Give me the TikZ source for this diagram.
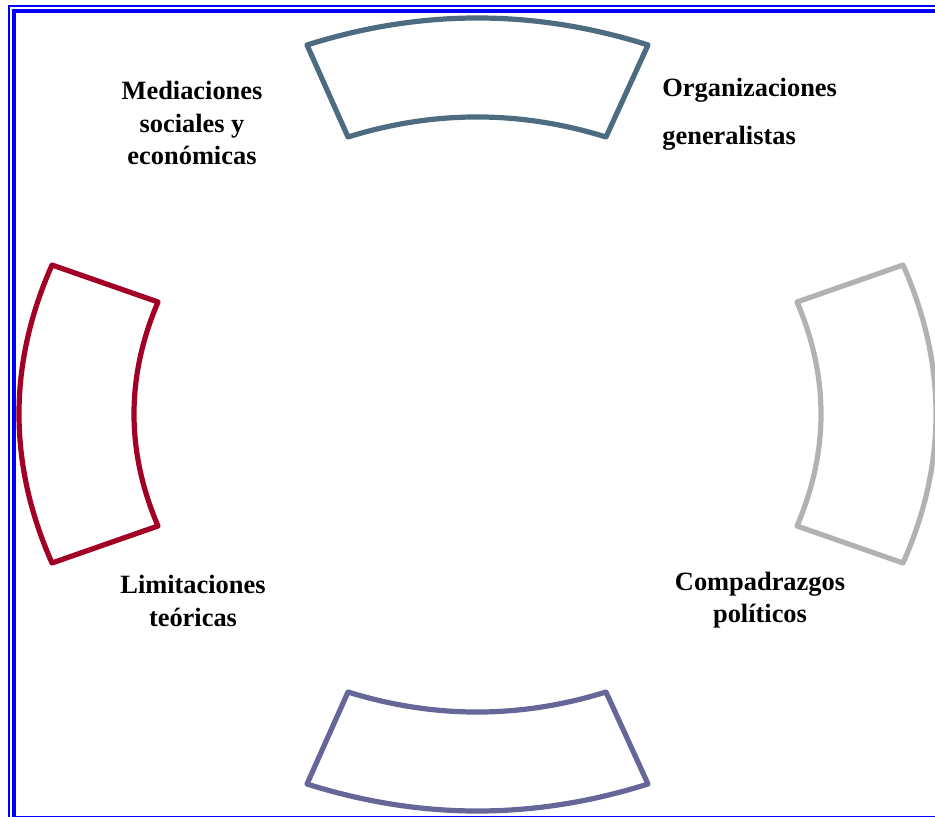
\documentclass[tikz,border=0pt]{standalone}
\usepackage{fontspec}
\setmainfont{Liberation Serif}
\usepackage{tikz}
\usetikzlibrary{positioning}

\definecolor{frameblue}{RGB}{0,0,255}
\definecolor{topblue}{RGB}{78,108,128}
\definecolor{leftred}{RGB}{162,0,37}
\definecolor{rightgray}{RGB}{178,178,178}
\definecolor{botpurple}{RGB}{102,102,153}

\tikzset{
  sector/.style={line width=2.6pt, line join=round},
  lbl/.style={font=\fontsize{13.2}{16.3}\selectfont\bfseries, align=center, inner sep=0pt}
}

\begin{document}
\begin{tikzpicture}[x=0.5pt, y=-0.5pt]
\useasboundingbox (0,0) rectangle (935,817);

%// frame
\draw[frameblue, line width=1pt] (8.5,6.5) rectangle (950,824);
\draw[frameblue, line width=2pt] (13.5,11.5) rectangle (950,817.5);

%// top
\draw[sector, topblue] (307,45) .. controls (421,9) and (534,9) .. (648,45)
  -- (606,137) .. controls (520,110.3) and (434,110.3) .. (348,137) -- cycle;

%// right
\draw[sector, rightgray] (903,265) .. controls (947,364.3) and (947,463.7) .. (903,563)
  -- (797,526) .. controls (829,451.3) and (829,376.7) .. (797,302) -- cycle;

%// bottom
\draw[sector, botpurple] (348,692) .. controls (434,718.7) and (520,718.7) .. (606,692)
  -- (648,784) .. controls (534,820) and (421,820) .. (307,784) -- cycle;

%// left
\draw[sector, leftred] (52,265) -- (158,302) .. controls (126,376.7) and (126,451.3) .. (158,526)
  -- (52,563) .. controls (8,463.7) and (8,364.3) .. cycle;

%// labels
\node[lbl] (med) at (192,123) {Mediaciones\\sociales y\\económicas};
\node[lbl, align=left, anchor=west] (org) at (662,114) {Organizaciones\\[7.5pt]generalistas};
\node[lbl] (lim) at (193,601) {Limitaciones\\teóricas};
\node[lbl] (comp) at (760,600) {Compadrazgos\\políticos};
\end{tikzpicture}
\end{document}
